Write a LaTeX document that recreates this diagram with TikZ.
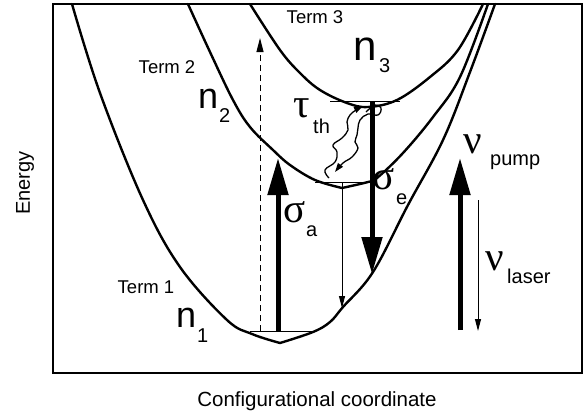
\documentclass[tikz,border=0pt]{standalone}
\usepackage{fontspec}
\setmainfont{Liberation Sans}
\newfontfamily\grfont{Liberation Serif}
\usetikzlibrary{arrows.meta}
\newcommand\myfs[1]{\fontsize{#1}{#1}\selectfont}
\begin{document}
\begin{tikzpicture}[x=1pt,y=-1pt,
  curve/.style={line width=2.4pt, line join=round, line cap=round},
  lvl/.style={line width=0.8pt},
  bigarrow/.style={line width=5pt, -{Triangle[length=37pt,width=20pt]}},
  thinarrow/.style={line width=1pt, -{Triangle[length=12pt,width=6pt]}},
  wavy/.style={line width=1.3pt, -{Triangle[length=9pt,width=6pt]}},
  lab/.style={font=\myfs{18.5}, inner sep=0pt},
  nlab/.style={font=\myfs{36}, inner sep=0pt, anchor=base west},
  sublab/.style={font=\myfs{20}, inner sep=0pt, anchor=base west},
  grlab/.style={font=\grfont\myfs{41}, inner sep=0pt, anchor=base west}]
\useasboundingbox (0,0) rectangle (587,413);
% frame
\draw[line width=1.5pt] (53,4) rectangle (582,373);
% Term 1
\draw[curve] plot[smooth,tension=0.6] coordinates {(72,4) (100,93) (143,200) (180,267) (227,320) (252,334) (280,343)};
\draw[curve] plot[smooth,tension=0.6] coordinates {(280,343) (313,332) (330,322) (343,307) (373,272) (408,205) (443,140) (470,72) (495,4)};
% Term 2
\draw[curve] plot[smooth,tension=0.6] coordinates {(188,4) (210,52) (233,100) (250,127) (273,150) (290,165) (315,180) (342,188)};
\draw[curve] plot[smooth,tension=0.6] coordinates {(342,188) (368,182) (377,178) (403,153) (433,117) (460,77) (488,4)};
% Term 3
\draw[curve] plot[smooth,tension=0.6] coordinates {(250,4) (280,50) (300,73) (320,90) (347,103) (368,107) (397,100) (430,77) (458,50) (483,4)};
% levels
\coordinate (l1a) at (250,331); \coordinate (l1b) at (313,331);
\coordinate (l2a) at (315,182); \coordinate (l2b) at (370,182);
\coordinate (l3a) at (330,101); \coordinate (l3b) at (400,101);
\draw[lvl] (l1a) -- (l1b);
\draw[lvl] (l2a) -- (l2b);
\draw[lvl] (l3a) -- (l3b);
% arrows
\coordinate (dS) at (260,331); \coordinate (dE) at (260,38);
\draw[line width=1pt, dash pattern=on 6pt off 4pt, -{Triangle[length=14pt,width=7pt]}] (dS) -- (dE);
\coordinate (aS) at (278,331); \coordinate (aE) at (278,158);
\draw[bigarrow] (aS) -- (aE);
\coordinate (eS) at (372,101); \coordinate (eE) at (372,274);
\draw[bigarrow] (eS) -- (eE);
\coordinate (tS) at (342,182); \coordinate (tE) at (342,308);
\draw[thinarrow] (tS) -- (tE);
\coordinate (pS) at (460,330); \coordinate (pE) at (460,158);
\draw[bigarrow] (pS) -- (pE);
\coordinate (lS) at (478,200); \coordinate (lE) at (478,331);
\draw[thinarrow] (lS) -- (lE);
% wavy lines
\draw[wavy] plot[smooth,tension=0.7] coordinates {(329,178) (325,170) (335,162) (337,152) (333,145) (342,138) (348,130) (347,122) (350,115) (356,110) (363,106)};
\draw[wavy] plot[smooth,tension=0.7] coordinates {(366,112) (375,105) (381,108) (378,115) (368,114) (360,120) (358,128) (357,135) (355,142) (358,148) (352,157) (343,163) (335,172)};
% labels
\node[lab] (t3) at (315,17) {Term 3};
\node[lab] (t2) at (167,67) {Term 2};
\node[lab] (t1) at (146,287) {Term 1};
\node[nlab] (n1) at (176,327) {n};
\node[sublab] (n1s) at (197,342) {1};
\node[nlab] (n2) at (198,108) {n};
\node[sublab] (n2s) at (219,122) {2};
\node[nlab,font=\myfs{42}] (n3) at (353,60) {n};
\node[sublab] (n3s) at (379,72) {3};
\node[grlab] (tau) at (293,117) {τ};
\node[sublab] (taus) at (313,133) {th};
\node[grlab] (sa) at (283,222) {σ};
\node[sublab] (sas) at (306,236) {a};
\node[grlab] (se) at (372,189) {σ};
\node[sublab] (ses) at (396,204) {e};
\node[grlab] (np) at (463,153) {ν};
\node[sublab] (nps) at (490,165) {pump};
\node[grlab] (nl) at (485,270) {ν};
\node[sublab] (nls) at (507,283) {laser};
\node[lab, font=\myfs{20}, rotate=90] (en) at (25,183) {Energy};
\node[lab, font=\myfs{20.5}, anchor=base] (cc) at (317,406) {Configurational coordinate};
\end{tikzpicture}
\end{document}
